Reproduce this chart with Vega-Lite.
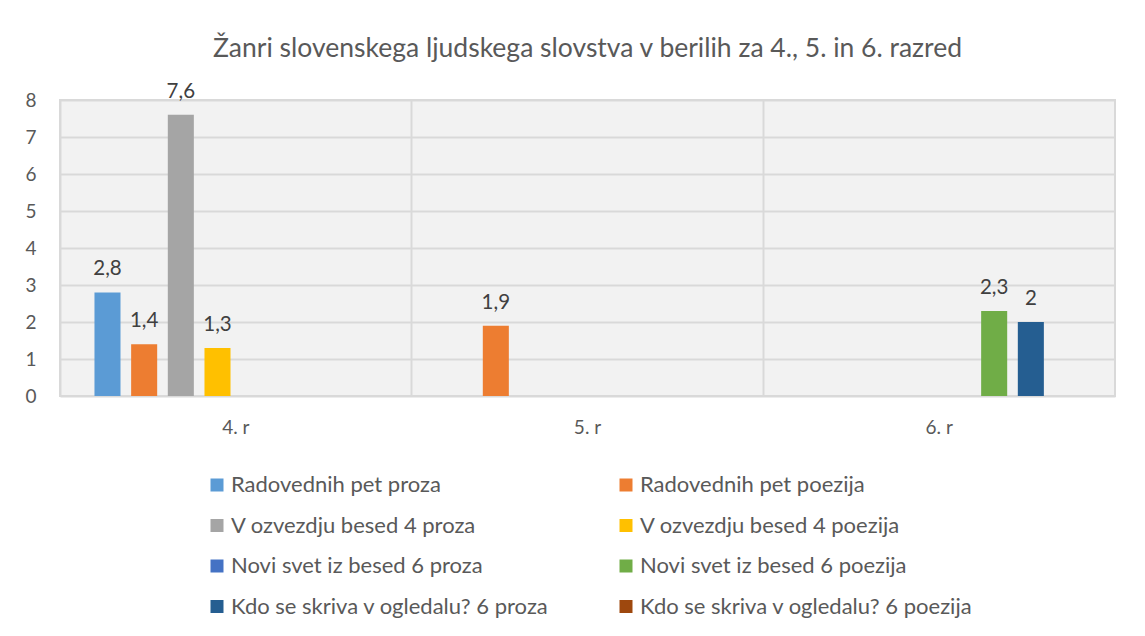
{
  "$schema": "https://vega.github.io/schema/vega-lite/v6.json",
  "autosize": "none",
  "width": 1055,
  "height": 296,
  "padding": {"left": 60, "top": 100, "right": 30, "bottom": 240},
  "background": "white",
  "title": {
    "text": "Žanri slovenskega ljudskega slovstva v berilih za 4., 5. in 6. razred",
    "font": "Lato",
    "fontSize": 26.5,
    "fontWeight": "normal",
    "color": "#595959",
    "anchor": "middle",
    "offset": 19
  },
  "data": {
    "values": [
      {"razred": "4. r", "serija": "Radovednih pet proza", "vrednost": 2.8},
      {"razred": "4. r", "serija": "Radovednih pet poezija", "vrednost": 1.4},
      {"razred": "4. r", "serija": "V ozvezdju besed 4 proza", "vrednost": 7.6},
      {"razred": "4. r", "serija": "V ozvezdju besed 4 poezija", "vrednost": 1.3},
      {"razred": "5. r", "serija": "Radovednih pet poezija", "vrednost": 1.9},
      {"razred": "6. r", "serija": "Novi svet iz besed 6 poezija", "vrednost": 2.3},
      {"razred": "6. r", "serija": "Kdo se skriva v ogledalu? 6 proza", "vrednost": 2}
    ]
  },
  "encoding": {
    "x": {
      "field": "razred",
      "type": "nominal",
      "scale": {"domain": ["4. r", "5. r", "6. r"], "paddingInner": 0, "paddingOuter": 0},
      "axis": {
        "title": null,
        "bandPosition": 0,
        "labelAngle": 0,
        "labelFont": "Lato",
        "labelFontSize": 19,
        "labelColor": "#595959",
        "labelPadding": 22,
        "ticks": false,
        "domain": false,
        "grid": true,
        "gridColor": "#d9d9d9",
        "gridWidth": 2
      }
    },
    "xOffset": {
      "field": "serija",
      "type": "nominal",
      "scale": {
        "domain": [
          "Radovednih pet proza",
          "Radovednih pet poezija",
          "V ozvezdju besed 4 proza",
          "V ozvezdju besed 4 poezija",
          "Novi svet iz besed 6 proza",
          "Novi svet iz besed 6 poezija",
          "Kdo se skriva v ogledalu? 6 proza",
          "Kdo se skriva v ogledalu? 6 poezija"
        ],
        "paddingInner": 0.29,
        "paddingOuter": 0.94
      }
    },
    "y": {
      "field": "vrednost",
      "type": "quantitative",
      "scale": {"domain": [0, 8], "nice": false},
      "axis": {
        "title": null,
        "values": [0, 1, 2, 3, 4, 5, 6, 7, 8],
        "labelFont": "Lato",
        "labelFontSize": 19,
        "labelColor": "#595959",
        "labelPadding": 24,
        "ticks": false,
        "domain": false,
        "grid": true,
        "gridColor": "#d9d9d9",
        "gridWidth": 2
      }
    }
  },
  "layer": [
    {
      "mark": {"type": "bar"},
      "encoding": {
        "color": {
          "field": "serija",
          "type": "nominal",
          "scale": {
            "domain": [
              "Radovednih pet proza",
              "Radovednih pet poezija",
              "V ozvezdju besed 4 proza",
              "V ozvezdju besed 4 poezija",
              "Novi svet iz besed 6 proza",
              "Novi svet iz besed 6 poezija",
              "Kdo se skriva v ogledalu? 6 proza",
              "Kdo se skriva v ogledalu? 6 poezija"
            ],
            "range": ["#5B9BD5", "#ED7D31", "#A5A5A5", "#FFC000", "#4472C4", "#70AD47", "#255E91", "#9E480E"]
          },
          "legend": {
            "title": null,
            "orient": "none",
            "legendX": 146,
            "legendY": 374,
            "direction": "horizontal",
            "columns": 2,
            "gridAlign": "each",
            "symbolType": "square",
            "symbolSize": 169,
            "symbolStrokeWidth": 0,
            "labelFont": "Lato",
            "labelFontSize": 22,
            "labelColor": "#595959",
            "labelOffset": 3,
            "labelLimit": 500,
            "rowPadding": 18.5,
            "columnPadding": 66,
            "padding": 0
          }
        }
      }
    },
    {
      "mark": {"type": "text", "baseline": "alphabetic", "dy": -17, "font": "Lato", "fontSize": 20.5, "color": "#404040"},
      "encoding": {
        "text": {"field": "vrednost", "type": "quantitative", "format": ".2~f"}
      }
    }
  ],
  "config": {
    "locale": {
      "number": {"decimal": ",", "thousands": ".", "grouping": [3], "currency": ["", " €"]}
    },
    "view": {"fill": "#f2f2f2", "stroke": "#d9d9d9", "strokeWidth": 2}
  }
}
